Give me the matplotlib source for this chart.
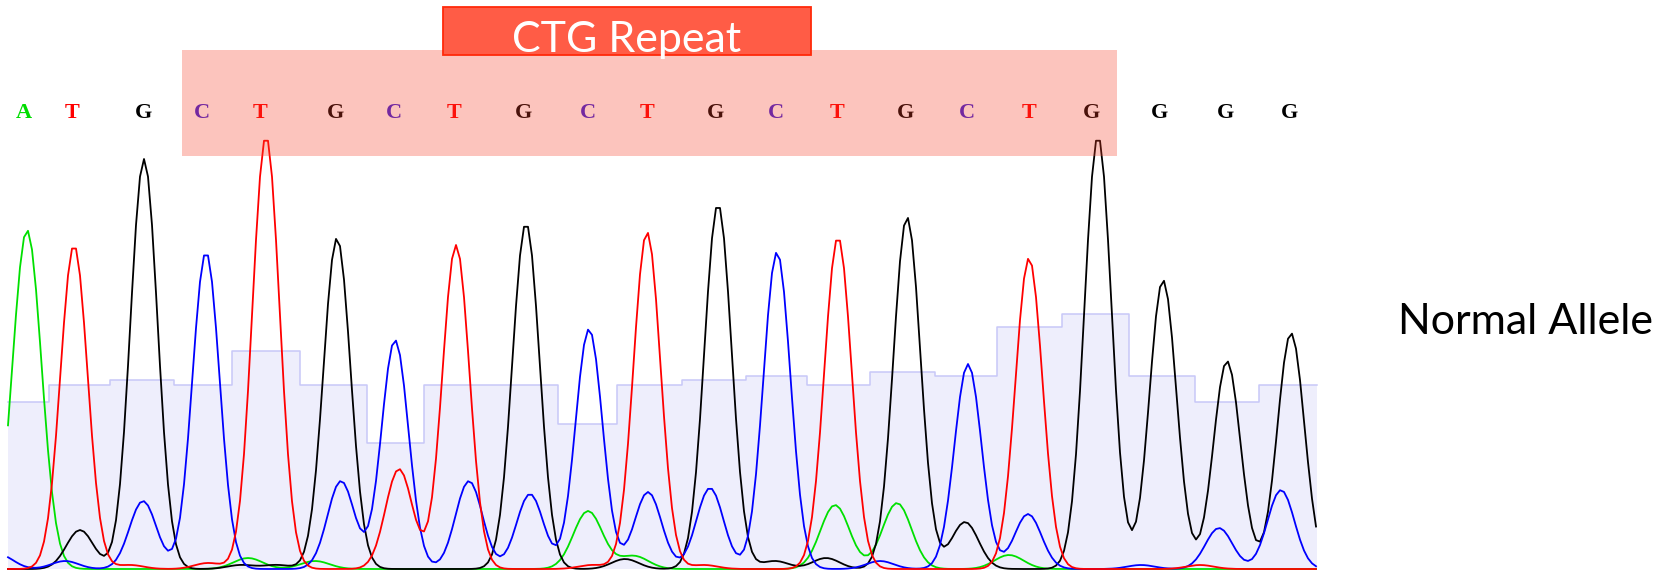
import numpy as np
import matplotlib.pyplot as plt
from matplotlib.patches import Rectangle

# base calls printed above the trace (x = scan position)
bases = list("ATGCTGCTGCTGCTGCTGGGG")
base_x = [24, 72, 143, 202, 260, 336, 394, 454, 523, 588, 647,
          716, 776, 837, 905, 967, 1029, 1091, 1160, 1225, 1290]
base_colors = {"A": "#00dd00", "T": "#ff0000", "G": "#000000", "C": "#3a1fd6"}

# quality bars: step edges and one value per base
qual_edges = [8, 49, 110, 174, 232, 300, 367, 424, 490, 558, 617, 682,
              746, 807, 870, 935, 997, 1062, 1129, 1195, 1259, 1317]
qual_vals = [167, 184, 189, 184, 218, 184, 126, 184, 184, 145, 184,
             189, 193, 184, 197, 193, 242, 255, 193, 167, 184]

# peaks of each dye channel: centre and height
a_pos = [27, 248, 315, 588, 634, 835, 897, 1009]
a_h = [339, 11, 8, 58, 13, 64, 66, 14]
t_pos = [74, 130, 208, 266, 399, 456, 592, 647, 704, 838, 1029, 1200]
t_h = [324, 4, 6, 433, 100, 324, 4, 337, 4, 332, 311, 4]
c_pos = [0, 65, 143, 206, 341, 395, 469, 530, 589, 648, 710, 777,
         880, 968, 1028, 1141, 1219, 1281]
c_h = [14, 8, 68, 317, 88, 229, 88, 75, 240, 77, 81, 317,
       8, 205, 55, 4, 41, 79]
g_pos = [80, 144, 241, 277, 337, 526, 625, 718, 775, 826, 907, 965,
         1098, 1163, 1227, 1291]
g_h = [39, 410, 4, 4, 331, 346, 10, 365, 8, 11, 352, 47,
       433, 289, 208, 236]

repeat_start, repeat_end = 182, 1117


def trace(pos, h, x, s=13.5):
    y = np.zeros_like(x)
    for p, hh in zip(pos, h):
        y += hh * np.exp(-(x - p) ** 2 / (2 * s * s))
    return y


fig = plt.figure(figsize=(16.8, 5.72), dpi=100)
ax = fig.add_axes([0, 0, 1, 1])
ax.set_xlim(0, 1680)
ax.set_ylim(-3, 569)
ax.axis("off")

# quality histogram behind the traces
qv = qual_vals + [qual_vals[-1]]
ax.fill_between(qual_edges, qv, step="post", color="#eeeefc", lw=0, zorder=1)
ax.step(qual_edges, qv, where="post", color="#c8c8f8", lw=1.1, zorder=1.5)

x = np.arange(8, 1318, 4.0)
ax.plot(x, trace(a_pos, a_h, x, 14.5), color="#00e000", lw=1.3, zorder=2)
ax.plot(x, trace(g_pos, g_h, x), color="#000000", lw=1.3, zorder=2.1)
ax.plot(x, trace(c_pos, c_h, x), color="#0000ff", lw=1.3, zorder=2.2)
ax.plot(x, trace(t_pos, t_h, x), color="#ff0000", lw=1.3, zorder=2.3)

for b, bx in zip(bases, base_x):
    ax.text(bx, 451, b, ha="center", va="baseline", fontsize=16,
            family="Liberation Serif", weight="bold",
            color=base_colors[b], zorder=3)

# repeat highlight and label
ax.add_patch(Rectangle((repeat_start, 413), repeat_end - repeat_start, 106,
                       facecolor=(248 / 255, 62 / 255, 38 / 255), alpha=0.3,
                       lw=0, zorder=5))
ax.add_patch(Rectangle((443, 514), 368, 48, facecolor="#ff5c46",
                       edgecolor="#ff2a0a", lw=1.3, zorder=6))
ax.text(627, 517, "CTG Repeat", ha="center", va="baseline", fontsize=31,
        family="Lato", color="white", zorder=7)

ax.text(1398, 235, "Normal Allele", ha="left", va="baseline", fontsize=31,
        family="Lato", color="black")

fig.savefig("out.png", dpi=100)
